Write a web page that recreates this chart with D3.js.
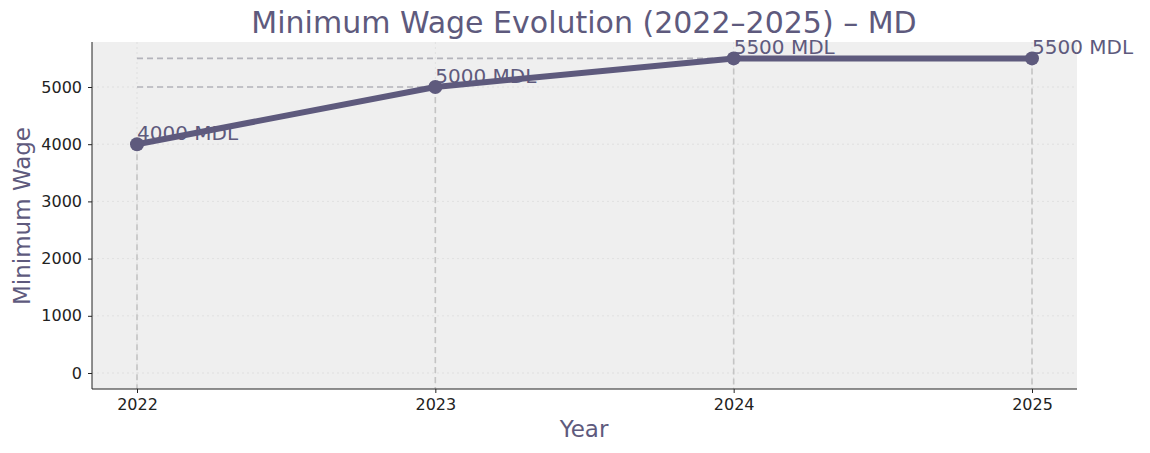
<!DOCTYPE html>
<html><head><meta charset="utf-8">
<script src="https://cdn.jsdelivr.net/npm/d3@7"></script>
<style>body{margin:0;background:#fff;font-family:"DejaVu Sans",sans-serif}</style>
</head><body><svg id="c" width="1150" height="453"></svg>
<script>
const years = [2022, 2023, 2024, 2025];
const wages = [4000, 5000, 5500, 5500];
const yTicks = [0, 1000, 2000, 3000, 4000, 5000];
const col = "#5e5a7d";

const svg = d3.select("#c");
const m = { left: 92, right: 1077, top: 42, bottom: 389 };
const x = d3.scaleLinear().domain([2022, 2025]).range([137, 1032]);
const y = d3.scaleLinear().domain([0, 5000]).range([373, 87]);

svg.append("rect").attr("x", m.left).attr("y", m.top)
  .attr("width", m.right - m.left).attr("height", m.bottom - m.top).attr("fill", "#efefef");

// grid
svg.append("g").selectAll("line").data(yTicks).join("line")
  .attr("x1", m.left).attr("x2", m.right).attr("y1", d => y(d)).attr("y2", d => y(d))
  .attr("stroke", "#dcdcdc").attr("stroke-dasharray", "2,3").attr("stroke-width", 0.8);
svg.append("g").selectAll("line").data(years).join("line")
  .attr("x1", d => x(d)).attr("x2", d => x(d)).attr("y1", m.top).attr("y2", m.bottom)
  .attr("stroke", "#dcdcdc").attr("stroke-dasharray", "2,3").attr("stroke-width", 0.8);

const pts = years.map((yr, i) => ({ yr, v: wages[i] }));
// guide lines
svg.append("g").selectAll("line").data(pts).join("line")
  .attr("x1", d => x(d.yr)).attr("x2", d => x(d.yr)).attr("y1", d => y(d.v)).attr("y2", m.bottom)
  .attr("stroke", "#c4c4c4").attr("stroke-dasharray", "6,4").attr("stroke-width", 1.6);
svg.append("g").selectAll("line").data(pts.slice(1, 3)).join("line")
  .attr("x1", x(2022)).attr("x2", d => x(d.yr)).attr("y1", d => y(d.v)).attr("y2", d => y(d.v))
  .attr("stroke", "#b4b4bb").attr("stroke-dasharray", "6,4").attr("stroke-width", 1.6);

// axes
svg.append("line").attr("x1", m.left).attr("x2", m.left).attr("y1", m.top).attr("y2", m.bottom).attr("stroke", "#222");
svg.append("line").attr("x1", m.left).attr("x2", m.right).attr("y1", m.bottom).attr("y2", m.bottom).attr("stroke", "#222");
const yAx = svg.append("g").attr("transform", `translate(${m.left},0)`)
  .call(d3.axisLeft(y).tickValues(yTicks).tickFormat(d3.format("d")).tickSize(4).tickPadding(6));
const xAx = svg.append("g").attr("transform", `translate(0,${m.bottom})`)
  .call(d3.axisBottom(x).tickValues(years).tickFormat(d3.format("d")).tickSize(4).tickPadding(6));
[yAx, xAx].forEach(a => {
  a.select(".domain").remove();
  a.attr("font-size", null).attr("font-family", null);
  a.selectAll("text").style("font-size", "16px").attr("fill", "#222").style("font-family", "DejaVu Sans");
  a.selectAll("line").attr("stroke", "#222");
});

// line
svg.append("path").datum(pts)
  .attr("d", d3.line().x(d => x(d.yr)).y(d => y(d.v)))
  .attr("fill", "none").attr("stroke", col).attr("stroke-width", 6).attr("stroke-linejoin", "round");
svg.append("g").selectAll("circle").data(pts).join("circle")
  .attr("cx", d => x(d.yr)).attr("cy", d => y(d.v)).attr("r", 7).attr("fill", col);
svg.append("g").selectAll("text").data(pts).join("text")
  .attr("x", d => x(d.yr)).attr("y", d => y(d.v) - 4)
  .attr("font-size", 20).attr("fill", col).text(d => d.v + " MDL");

// titles
svg.append("text").attr("x", 584).attr("y", 33).attr("text-anchor", "middle")
  .attr("font-size", 30).attr("fill", col).text("Minimum Wage Evolution (2022–2025) – MD");
svg.append("text").attr("x", 584).attr("y", 437).attr("text-anchor", "middle")
  .attr("font-size", 23).attr("fill", col).text("Year");
svg.append("text").attr("transform", "translate(30,216) rotate(-90)").attr("text-anchor", "middle")
  .attr("font-size", 23).attr("fill", col).text("Minimum Wage");
</script></body></html>
